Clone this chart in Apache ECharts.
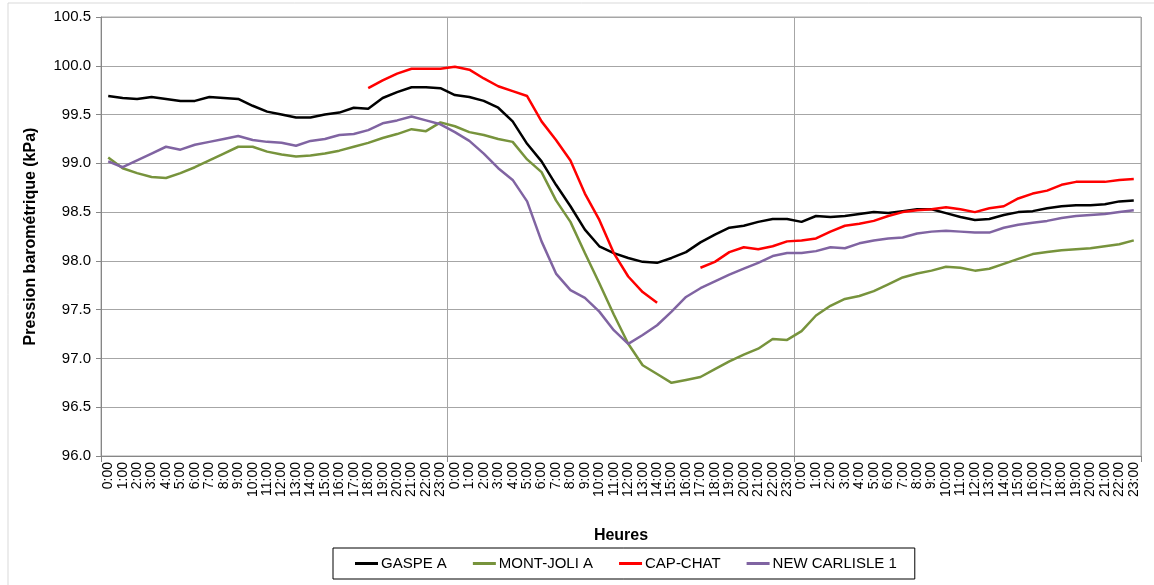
<!DOCTYPE html>
<html>
<head>
<meta charset="utf-8">
<title>Pression barométrique</title>
<script src="https://cdn.jsdelivr.net/npm/echarts@6/dist/echarts.min.js"></script>
<style>
  html, body { margin: 0; padding: 0; background: #fff; }
  #chart { width: 1154px; height: 585px; }
</style>
</head>
<body>
<div id="chart"></div>
<script>
// heures d'une journee, repetees sur 3 jours
const hours = ['0:00', '1:00', '2:00', '3:00', '4:00', '5:00', '6:00', '7:00', '8:00', '9:00', '10:00', '11:00',
  '12:00', '13:00', '14:00', '15:00', '16:00', '17:00', '18:00', '19:00', '20:00', '21:00', '22:00', '23:00'];
const categories = [...hours, ...hours, ...hours];

const yTicks = [96.0, 96.5, 97.0, 97.5, 98.0, 98.5, 99.0, 99.5, 100.0, 100.5];

const gaspe = [
  99.69, 99.67, 99.66, 99.68, 99.66, 99.64, 99.64, 99.68, 99.67, 99.66, 99.59, 99.53, 99.50, 99.47, 99.47, 99.50, 99.52, 99.57, 99.56, 99.67, 99.73, 99.78, 99.78, 99.77,
  99.70, 99.68, 99.64, 99.57, 99.43, 99.20, 99.02, 98.78, 98.56, 98.32, 98.15, 98.08, 98.03, 97.99, 97.98, 98.03, 98.09, 98.19, 98.27, 98.34, 98.36, 98.40, 98.43, 98.43,
  98.40, 98.46, 98.45, 98.46, 98.48, 98.50, 98.49, 98.51, 98.53, 98.53, 98.49, 98.45, 98.42, 98.43, 98.47, 98.50, 98.51, 98.54, 98.56, 98.57, 98.57, 98.58, 98.61, 98.62
];
const montJoli = [
  99.06, 98.95, 98.90, 98.86, 98.85, 98.90, 98.96, 99.03, 99.10, 99.17, 99.17, 99.12, 99.09, 99.07, 99.08, 99.10, 99.13, 99.17, 99.21, 99.26, 99.30, 99.35, 99.33, 99.42,
  99.38, 99.32, 99.29, 99.25, 99.22, 99.04, 98.91, 98.62, 98.40, 98.08, 97.77, 97.45, 97.15, 96.93, 96.84, 96.75, 96.78, 96.81, 96.89, 96.97, 97.04, 97.10, 97.20, 97.19,
  97.28, 97.44, 97.54, 97.61, 97.64, 97.69, 97.76, 97.83, 97.87, 97.90, 97.94, 97.93, 97.90, 97.92, 97.97, 98.02, 98.07, 98.09, 98.11, 98.12, 98.13, 98.15, 98.17, 98.21
];
const capChat = [
  null, null, null, null, null, null, null, null, null, null, null, null, null, null, null, null, null, null, 99.77, 99.85, 99.92, 99.97, 99.97, 99.97,
  99.99, 99.96, 99.87, 99.79, 99.74, 99.69, 99.43, 99.24, 99.03, 98.69, 98.42, 98.08, 97.84, 97.68, 97.57, null, null, 97.93, 97.99, 98.09, 98.14, 98.12, 98.15, 98.20,
  98.21, 98.23, 98.30, 98.36, 98.38, 98.41, 98.46, 98.50, 98.52, 98.53, 98.55, 98.53, 98.50, 98.54, 98.56, 98.64, 98.69, 98.72, 98.78, 98.81, 98.81, 98.81, 98.83, 98.84
];
const newCarlisle = [
  99.02, 98.96, 99.03, 99.10, 99.17, 99.14, 99.19, 99.22, 99.25, 99.28, 99.24, 99.22, 99.21, 99.18, 99.23, 99.25, 99.29, 99.30, 99.34, 99.41, 99.44, 99.48, 99.44, 99.40,
  99.32, 99.23, 99.10, 98.95, 98.83, 98.61, 98.20, 97.87, 97.70, 97.62, 97.48, 97.29, 97.15, 97.24, 97.34, 97.48, 97.63, 97.72, 97.79, 97.86, 97.92, 97.98, 98.05, 98.08,
  98.08, 98.10, 98.14, 98.13, 98.18, 98.21, 98.23, 98.24, 98.28, 98.30, 98.31, 98.30, 98.29, 98.29, 98.34, 98.37, 98.39, 98.41, 98.44, 98.46, 98.47, 98.48, 98.50, 98.52
];

const seriesNames = ['GASPE A', 'MONT-JOLI A', 'CAP-CHAT', 'NEW CARLISLE 1'];
const seriesColors = ['#000000', '#77933c', '#ff0000', '#8064a2'];
const seriesData = [gaspe, montJoli, capChat, newCarlisle];

const font = 'Liberation Sans';
const gridGray = '#a6a6a6';

let chart = echarts.init(document.getElementById('chart'));

// ligne verticale a chaque changement de jour
let dayBoundary = function (index) {
  return index % 24 === 0;
};

let option = {
  animation: false,
  textStyle: { fontFamily: font, color: '#000' },
  graphic: [
    {
      type: 'rect',
      shape: { x: 8, y: 3, width: 1160, height: 600 },
      style: { fill: 'none', stroke: '#d9d9d9', lineWidth: 1 },
      silent: true
    }
  ],
  grid: {
    left: 101,
    right: 13,
    top: 17,
    bottom: 129,
    show: true,
    borderColor: gridGray,
    borderWidth: 1
  },
  legend: {
    data: seriesNames,
    left: 333,
    top: 548,
    padding: [8, 18, 8, 22],
    itemGap: 26,
    itemWidth: 23,
    itemHeight: 3,
    icon: 'rect',
    borderColor: '#000',
    borderWidth: 1,
    textStyle: { fontSize: 15, fontFamily: font, color: '#000', padding: [0, 0, 0, -2] }
  },
  xAxis: {
    type: 'category',
    data: categories,
    boundaryGap: true,
    name: 'Heures',
    nameLocation: 'middle',
    nameGap: 72,
    nameTextStyle: { fontSize: 16, fontWeight: 'bold', fontFamily: font, color: '#000' },
    axisLine: { lineStyle: { color: '#868686' } },
    axisTick: { show: true, interval: dayBoundary, length: 6, lineStyle: { color: '#868686' } },
    axisLabel: { interval: 0, rotate: 90, fontSize: 14, margin: 6, color: '#000', fontFamily: font },
    splitLine: { show: true, interval: dayBoundary, lineStyle: { color: gridGray, width: 1 } }
  },
  yAxis: {
    type: 'value',
    min: yTicks[0],
    max: yTicks[yTicks.length - 1],
    interval: 0.5,
    name: 'Pression barométrique (kPa)',
    nameLocation: 'middle',
    nameGap: 62,
    nameTextStyle: { fontSize: 16, fontWeight: 'bold', fontFamily: font, color: '#000' },
    axisLine: { show: true, lineStyle: { color: '#868686' } },
    axisTick: { show: true, length: 5, lineStyle: { color: '#868686' } },
    axisLabel: {
      fontSize: 15,
      margin: 10,
      color: '#000',
      fontFamily: font,
      formatter: function (v) { return v.toFixed(1); }
    },
    splitLine: { show: true, lineStyle: { color: gridGray, width: 1 } }
  },
  series: seriesNames.map(function (name, i) {
    return {
      name: name,
      type: 'line',
      data: seriesData[i],
      color: seriesColors[i],
      showSymbol: false,
      symbol: 'none',
      connectNulls: false,
      lineStyle: { width: 2.5, color: seriesColors[i] }
    };
  })
};

chart.setOption(option);
</script>
</body>
</html>
